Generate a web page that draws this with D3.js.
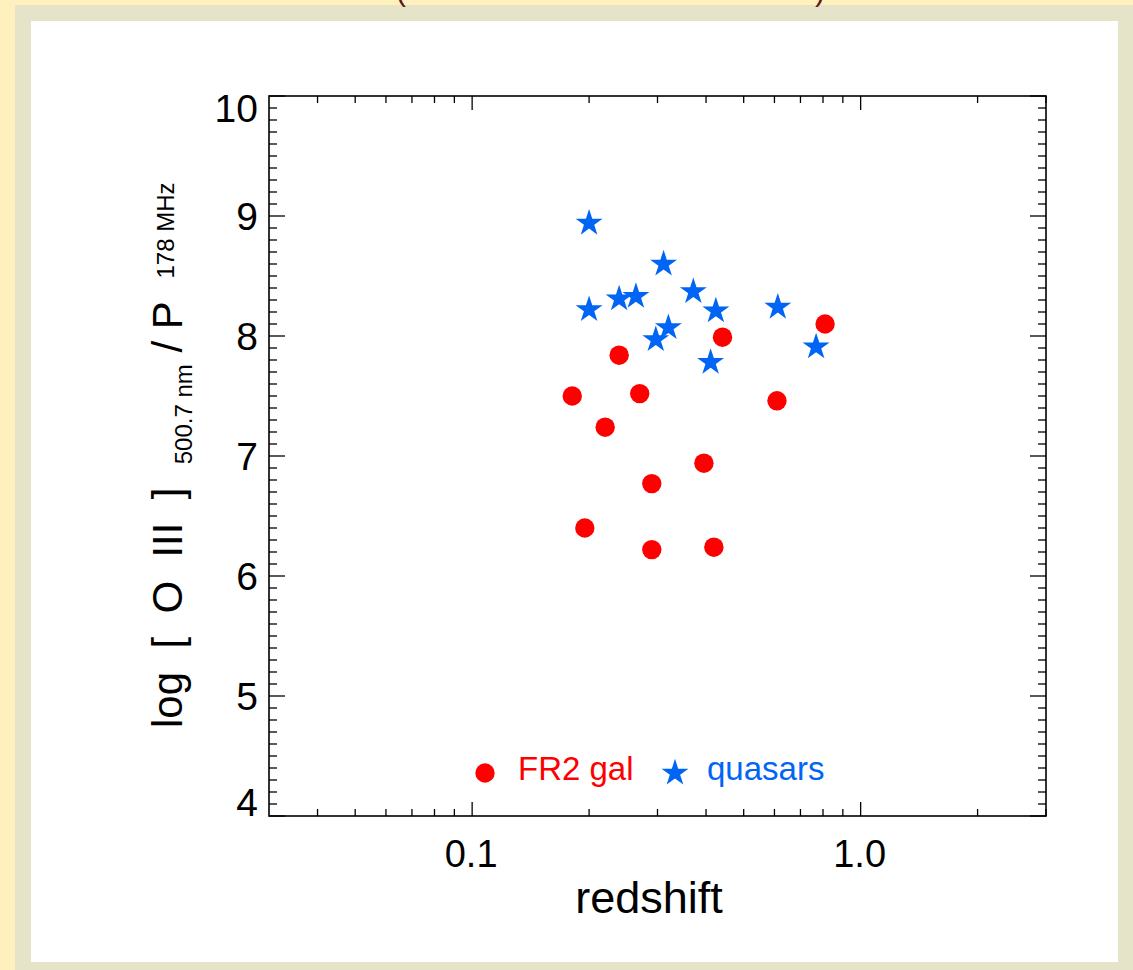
<!DOCTYPE html>
<html>
<head>
<meta charset="utf-8">
<script src="https://cdn.jsdelivr.net/npm/d3@7"></script>
<style>
  body { margin: 0; background: #fff1bd; }
  svg { display: block; font-family: "Liberation Sans", Arial, sans-serif; }
</style>
</head>
<body>
<div id="chart"></div>
<script>
// FR2 radio galaxies
var galZ = [0.181, 0.270, 0.220, 0.239, 0.395, 0.290, 0.195, 0.290, 0.419, 0.441, 0.609, 0.810];
var galY = [7.50, 7.52, 7.24, 7.84, 6.94, 6.77, 6.40, 6.22, 6.24, 7.99, 7.46, 8.10];

// quasars
var qsoZ = [0.200, 0.311, 0.239, 0.264, 0.200, 0.320, 0.297, 0.371, 0.424, 0.411, 0.612, 0.768];
var qsoY = [8.94, 8.60, 8.31, 8.33, 8.22, 8.07, 7.97, 8.37, 8.21, 7.78, 8.24, 7.91];

var xMajor = [0.1, 1.0];
var xMajorLabels = ["0.1", "1.0"];
var xMinor = [0.04, 0.05, 0.06, 0.07, 0.08, 0.09, 0.2, 0.3, 0.4, 0.5, 0.6, 0.7, 0.8, 0.9, 2, 3];
var yMajor = [4, 5, 6, 7, 8, 9, 10];
var yMinor = d3.range(40, 101).filter(function(d) { return d % 10 != 0; }).map(function(d) { return d / 10; });

var W = 1133, H = 970;
var margin = { top: 96, right: 87, bottom: 154, left: 269 };
var w = W - margin.left - margin.right,
    h = H - margin.top - margin.bottom;

var svg = d3.select("#chart").append("svg")
    .attr("width", W)
    .attr("height", H);

// frames
svg.append("rect").attr("x", 0).attr("y", 0).attr("width", W).attr("height", H).attr("fill", "#fff1bd");
svg.append("rect").attr("x", 15).attr("y", 5).attr("width", W - 15).attr("height", H - 5).attr("fill", "#e5e4c8");
svg.append("rect").attr("x", 31).attr("y", 21).attr("width", 1118 - 31).attr("height", 962 - 21).attr("fill", "#ffffff");

// title is cut off by the page top, only the parentheses show
svg.append("text").attr("x", 396).attr("y", 1).attr("font-size", "30px").attr("fill", "#5a1a1a").text("(");
svg.append("text").attr("x", 815).attr("y", 1).attr("font-size", "30px").attr("fill", "#5a1a1a").text(")");

var g = svg.append("g")
    .attr("transform", "translate(" + margin.left + "," + margin.top + ")");

var x = d3.scaleLog().domain([0.03, 3]).range([0, w]);
var y = d3.scaleLinear().domain([4, 10]).range([h, 0]);

// ticks, all pointing inwards on all four sides
function xTicks(vals, len) {
  vals.forEach(function(v) {
    g.append("line").attr("x1", x(v)).attr("x2", x(v)).attr("y1", h).attr("y2", h - len)
      .attr("stroke", "#000").attr("stroke-width", 1.3);
    g.append("line").attr("x1", x(v)).attr("x2", x(v)).attr("y1", 0).attr("y2", len)
      .attr("stroke", "#000").attr("stroke-width", 1.3);
  });
}
function yTicks(vals, len) {
  vals.forEach(function(v) {
    g.append("line").attr("x1", 0).attr("x2", len).attr("y1", y(v)).attr("y2", y(v))
      .attr("stroke", "#000").attr("stroke-width", 1.3);
    g.append("line").attr("x1", w).attr("x2", w - len).attr("y1", y(v)).attr("y2", y(v))
      .attr("stroke", "#000").attr("stroke-width", 1.3);
  });
}
xTicks(xMinor, 7);
xTicks(xMajor, 14);
yTicks(yMinor, 8);
yTicks(yMajor, 16);

g.append("rect").attr("x", 0).attr("y", 0).attr("width", w).attr("height", h)
  .attr("fill", "none").attr("stroke", "#000").attr("stroke-width", 1.6);

// tick labels
g.selectAll(".ylab").data(yMajor).enter().append("text")
  .attr("class", "ylab")
  .attr("x", -11)
  .attr("y", function(d) { return Math.max(26, Math.min(h, y(d) + 14)); })
  .attr("text-anchor", "end")
  .attr("font-size", "39px")
  .text(function(d) { return d; });

g.selectAll(".xlab").data(xMajor).enter().append("text")
  .attr("class", "xlab")
  .attr("x", function(d) { return x(d) - 1; })
  .attr("y", h + 51)
  .attr("text-anchor", "middle")
  .attr("font-size", "38px")
  .text(function(d, i) { return xMajorLabels[i]; });

// axis titles
g.append("text")
  .attr("x", 380)
  .attr("y", h + 97)
  .attr("text-anchor", "middle")
  .attr("font-size", "45px")
  .text("redshift");

var yt = svg.append("text")
  .attr("transform", "translate(182,728) rotate(-90)")
  .attr("font-size", "42px")
  .attr("xml:space", "preserve")
  .style("white-space", "pre");
yt.append("tspan").text("log  [  O  III  ]  ");
yt.append("tspan").attr("font-size", "24px").attr("dy", 10).text("500.7 nm");
yt.append("tspan").attr("dy", -10).text(" / P  ");
yt.append("tspan").attr("font-size", "24px").attr("dy", -8).text("178 MHz");

// data
var red = "#ff0000", blue = "#0064f5";

g.selectAll(".gal").data(galZ).enter().append("circle")
  .attr("class", "gal")
  .attr("cx", function(d) { return x(d); })
  .attr("cy", function(d, i) { return y(galY[i]); })
  .attr("r", 9.7)
  .attr("fill", red);

var star = d3.symbol().type(d3.symbolStar).size(225);
g.selectAll(".qso").data(qsoZ).enter().append("path")
  .attr("class", "qso")
  .attr("d", star)
  .attr("transform", function(d, i) { return "translate(" + x(d) + "," + y(qsoY[i]) + ")"; })
  .attr("fill", blue);

// legend
var ly = 677;
g.append("circle").attr("cx", 216).attr("cy", ly).attr("r", 9.7).attr("fill", red);
g.append("text").attr("x", 249).attr("y", ly + 7).attr("font-size", "33px").attr("fill", red).text("FR2 gal");
g.append("path").attr("d", star).attr("transform", "translate(406," + ly + ")").attr("fill", blue);
g.append("text").attr("x", 438).attr("y", ly + 7).attr("font-size", "33px").attr("fill", blue).text("quasars");
</script>
</body>
</html>
